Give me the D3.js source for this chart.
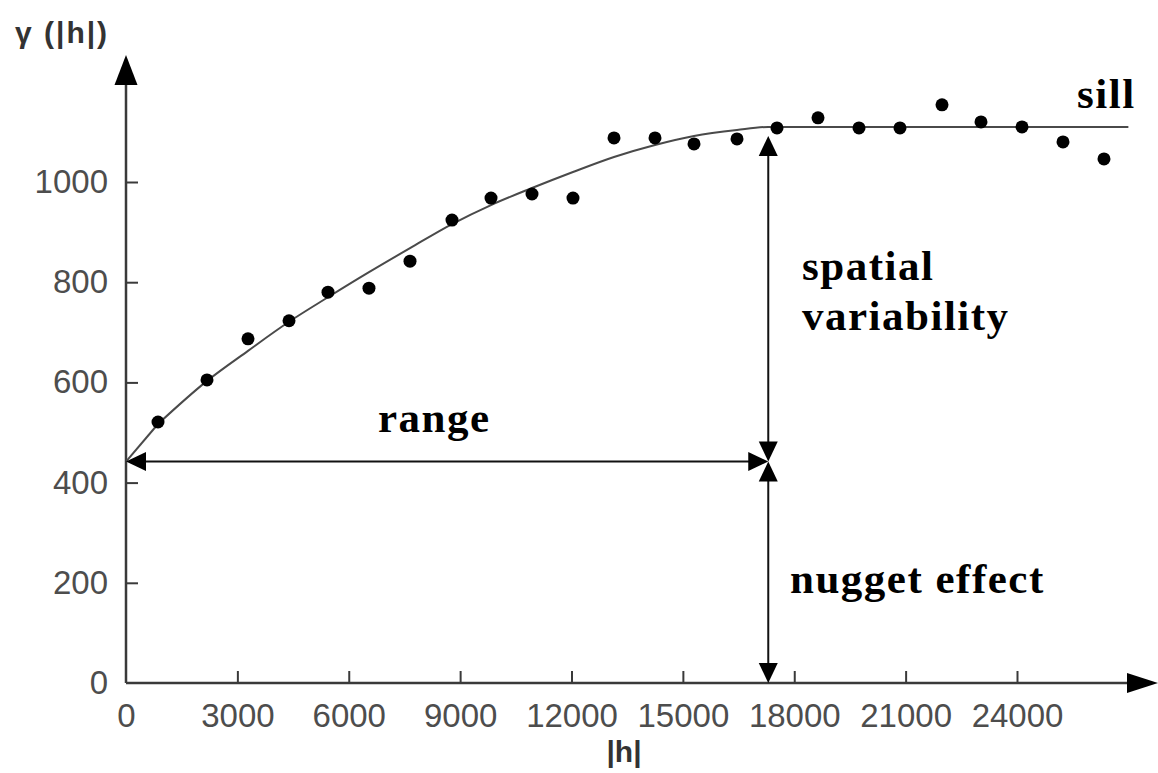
<!DOCTYPE html>
<html>
<head>
<meta charset="utf-8">
<script src="https://cdn.jsdelivr.net/npm/d3@7"></script>
<style>
  html, body { margin: 0; padding: 0; background: #fff; }
  svg { display: block; }
</style>
</head>
<body>
<svg id="chart" width="1158" height="773"></svg>
<script>
// ---- data ----
const lagH     = [862, 2182, 3286, 4391, 5441, 6545, 7650, 8781, 9832, 10936, 12040, 13145,
                  14249, 15300, 16458, 17535, 18640, 19744, 20848, 21980, 23030, 24135, 25239, 26343];
const gammaVal = [521, 605, 687, 723, 780, 788, 842, 924, 968, 976, 968, 1088,
                  1088, 1076, 1086, 1108, 1128, 1108, 1108, 1154, 1120, 1110, 1080, 1046];
const modelH     = [0, 862, 2182, 3286, 4391, 5441, 6545, 7650, 8781, 9832, 10936, 12040,
                    13145, 14249, 15300, 16458, 17300, 27000];
const modelGamma = [442, 517, 603, 663, 721, 770, 820, 868, 916, 954, 988, 1020,
                    1050, 1074, 1092, 1104, 1110, 1110];
const xTicks = [0, 3000, 6000, 9000, 12000, 15000, 18000, 21000, 24000];
const yTicks = [0, 200, 400, 600, 800, 1000];
const nugget = 442;
const sill = 1110;
const rangeH = 17300;
const labels = { yTitle: "γ (|h|)", xTitle: "|h|", sill: "sill", spatial1: "spatial",
                 spatial2: "variability", range: "range", nugget: "nugget effect" };

// ---- scales ----
const x = d3.scaleLinear().domain([0, 24000]).range([126, 1017]);
const y = d3.scaleLinear().domain([0, 1000]).range([683, 182]);

const svg = d3.select("#chart");
const axisColor = "#3a3a3a";
const tickFont = "'Liberation Sans', Arial, sans-serif";
const serif = "'Liberation Serif', 'Times New Roman', serif";

// ---- axes ----
const gx = svg.append("g").attr("transform", `translate(0,${y(0)})`)
  .call(d3.axisBottom(x).tickValues(xTicks).tickSize(-12).tickPadding(21).tickFormat(d3.format("d")));
const gy = svg.append("g").attr("transform", `translate(${x(0)},0)`)
  .call(d3.axisLeft(y).tickValues(yTicks).tickSize(-12).tickPadding(18).tickFormat(d3.format("d")));
[gx, gy].forEach(g => {
  g.select(".domain").remove();
  g.selectAll(".tick line").attr("stroke", axisColor).attr("stroke-width", 2);
  g.selectAll(".tick text").attr("fill", "#4d4d4d").style("font-family", tickFont).style("font-size", "33px");
});
gx.selectAll(".tick").filter(d => d === 0).select("line").remove();
gy.selectAll(".tick").filter(d => d === 0).select("line").remove();

// axis lines with arrowheads
const x0 = x(0), y0 = y(0);
svg.append("line").attr("x1", x0).attr("y1", y0).attr("x2", x0).attr("y2", 80)
  .attr("stroke", axisColor).attr("stroke-width", 2.5);
svg.append("path").attr("d", `M${x0},55 L${x0 - 11.5},85 L${x0 + 11.5},85 Z`).attr("fill", "#000");
svg.append("line").attr("x1", x0).attr("y1", y0).attr("x2", 1135).attr("y2", y0)
  .attr("stroke", axisColor).attr("stroke-width", 2.5);
svg.append("path").attr("d", `M1158,${y0} L1127,${y0 - 10} L1127,${y0 + 10} Z`).attr("fill", "#000");

// ---- model curve ----
const modelPts = modelH.map((h, i) => [h, modelGamma[i]]);
const lineGen = d3.line().x(d => x(d[0])).y(d => y(d[1]));
// first segment straight (as in the original), remainder smooth
svg.append("path").datum(modelPts.slice(0, 2))
  .attr("fill", "none").attr("stroke", "#4a4a4a").attr("stroke-width", 2)
  .attr("d", lineGen.curve(d3.curveLinear));
svg.append("path").datum(modelPts.slice(1))
  .attr("fill", "none").attr("stroke", "#4a4a4a").attr("stroke-width", 2)
  .attr("d", lineGen.curve(d3.curveMonotoneX));

// ---- points ----
svg.append("g").selectAll("circle").data(lagH.map((h, i) => [h, gammaVal[i]]))
  .join("circle").attr("cx", d => x(d[0])).attr("cy", d => y(d[1])).attr("r", 6.5).attr("fill", "#000");

// ---- annotation arrows ----
const ax = x(rangeH), ny = y(nugget), sy = y(sill) + 9;
function head(tx, ty, dir) {
  const L = 20, W = 9.5;
  let d;
  if (dir === "left")  d = `M${tx},${ty} L${tx + L},${ty - W} L${tx + L},${ty + W} Z`;
  if (dir === "right") d = `M${tx},${ty} L${tx - L},${ty - W} L${tx - L},${ty + W} Z`;
  if (dir === "up")    d = `M${tx},${ty} L${tx - W},${ty + L} L${tx + W},${ty + L} Z`;
  if (dir === "down")  d = `M${tx},${ty} L${tx - W},${ty - L} L${tx + W},${ty - L} Z`;
  svg.append("path").attr("d", d).attr("fill", "#000");
}
svg.append("line").attr("x1", x0 + 10).attr("y1", ny).attr("x2", ax - 10).attr("y2", ny)
  .attr("stroke", "#111").attr("stroke-width", 2);
head(x0, ny, "left"); head(ax, ny, "right");
svg.append("line").attr("x1", ax).attr("y1", sy + 10).attr("x2", ax).attr("y2", ny - 10)
  .attr("stroke", "#111").attr("stroke-width", 2);
head(ax, sy, "up"); head(ax, ny, "down");
svg.append("line").attr("x1", ax).attr("y1", ny + 10).attr("x2", ax).attr("y2", y0 - 10)
  .attr("stroke", "#111").attr("stroke-width", 2);
head(ax, ny, "up"); head(ax, y0, "down");

// ---- text ----
function serifText(t, tx, ty) {
  svg.append("text").attr("x", tx).attr("y", ty).text(t)
    .style("font-family", serif).style("font-weight", "bold").style("font-size", "43px")
    .style("letter-spacing", "1.5px").attr("fill", "#000");
}
serifText(labels.sill, 1077, 108);
serifText(labels.spatial1, 802, 280);
serifText(labels.spatial2, 802, 330);
serifText(labels.range, 378, 432);
serifText(labels.nugget, 790, 593);

svg.append("text").attr("x", 15).attr("y", 43).text(labels.yTitle)
  .style("font-family", tickFont).style("font-weight", "bold").style("font-size", "30px")
  .style("letter-spacing", "2px").attr("fill", "#333");
svg.append("text").attr("x", 624).attr("y", 762).attr("text-anchor", "middle").text(labels.xTitle)
  .style("font-family", tickFont).style("font-weight", "bold").style("font-size", "30px").attr("fill", "#333");
</script>
</body>
</html>
